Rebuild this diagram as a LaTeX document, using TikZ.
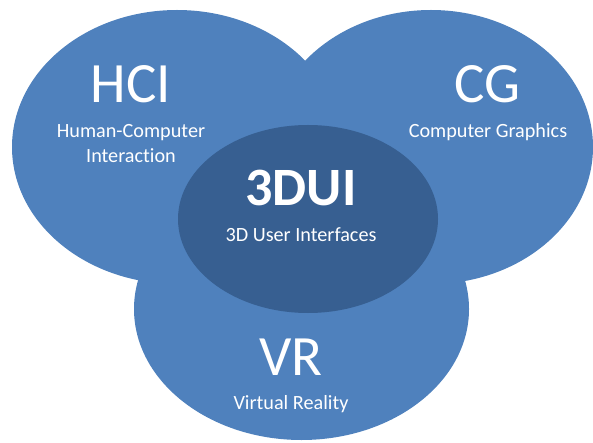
\documentclass[tikz,border=0pt]{standalone}
\usepackage{fontspec}
\setmainfont[Ligatures=NoCommon]{Carlito}
\usetikzlibrary{shapes.geometric}
\definecolor{lightblue}{RGB}{79,129,189}
\definecolor{darkblue}{RGB}{55,95,145}
\tikzset{
  blob/.style={ellipse, fill=lightblue, draw=none, inner sep=0pt, outer sep=0pt},
  core/.style={ellipse, fill=darkblue, draw=none, inner sep=0pt, outer sep=0pt},
  bigtxt/.style={text=white, anchor=base, inner sep=0pt, font=\fontsize{57}{57}\selectfont},
  coretxt/.style={text=white, anchor=base, inner sep=0pt, font=\fontsize{54}{54}\selectfont\bfseries},
  smalltxt/.style={text=white, anchor=base, inner sep=0pt, font=\fontsize{20.2}{20.2}\selectfont}
}
\begin{document}
\begin{tikzpicture}[x=1pt,y=-1pt]
\useasboundingbox (0,0) rectangle (593,443);
\node[blob, minimum width=330pt, minimum height=274pt] (hci) at (177,147) {};
\node[blob, minimum width=324pt, minimum height=274pt] (cg) at (431,147) {};
\node[blob, minimum width=335pt, minimum height=262pt] (vr) at (301.5,309) {};
\node[core, minimum width=260pt, minimum height=188pt] (dui) at (308,219) {};
\node[bigtxt] (hcit) at (131,103) {HCI};
\node[smalltxt] (hcis1) at (131,138) {Human-Computer};
\node[smalltxt] (hcis2) at (131,163) {Interaction};
\node[bigtxt] (cgt) at (487,103) {CG};
\node[smalltxt] (cgs) at (488,138) {Computer Graphics};
\node[coretxt] (duit) at (301,206) {3DUI};
\node[smalltxt] (duis) at (301,241) {3D User Interfaces};
\node[bigtxt] (vrt) at (291,375) {VR};
\node[smalltxt] (vrs) at (291,409) {Virtual Reality};
\end{tikzpicture}
\end{document}
